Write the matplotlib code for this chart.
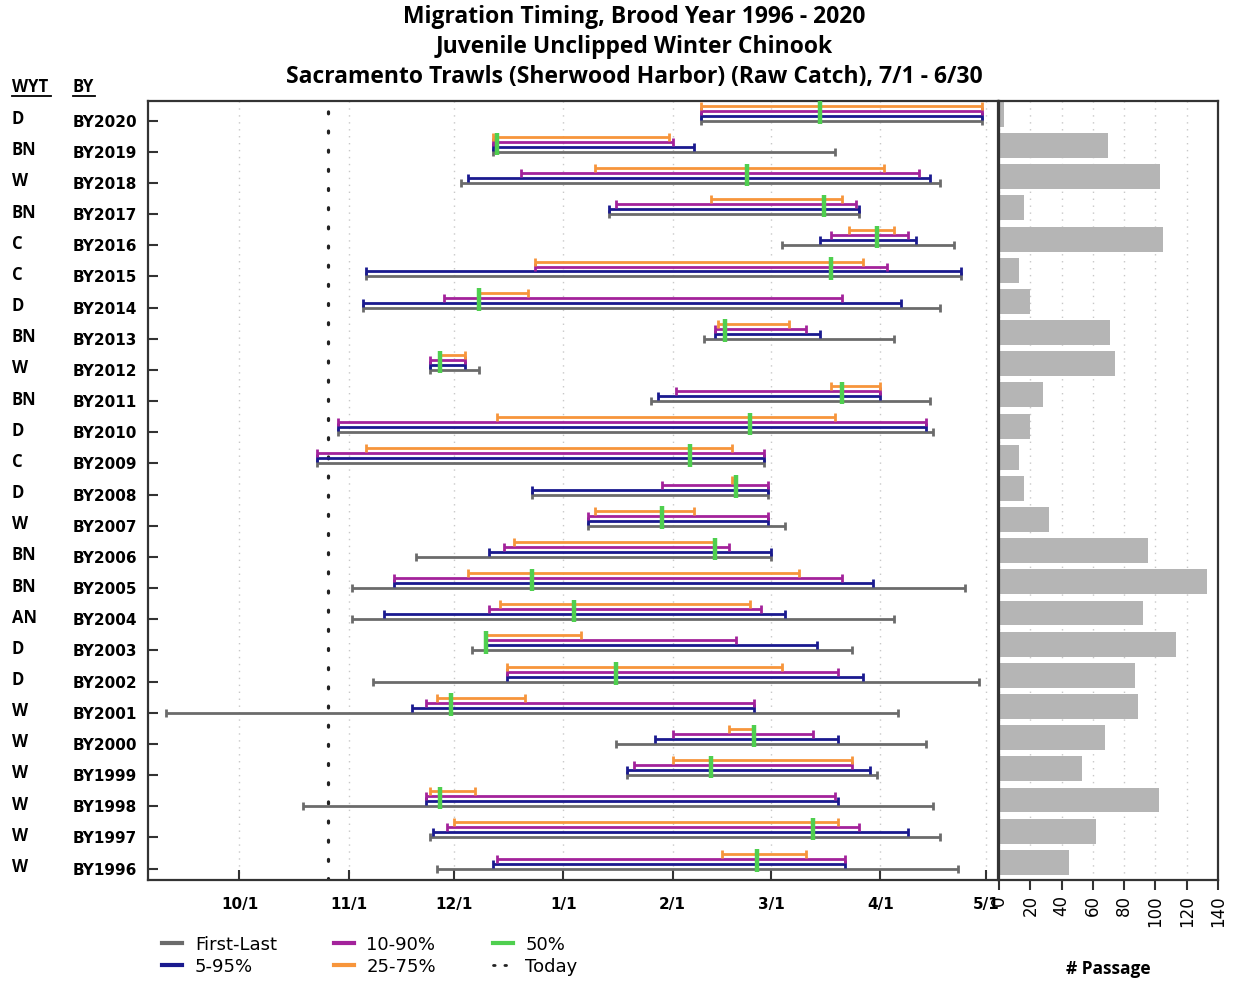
import numpy as np
import matplotlib.pyplot as plt
from matplotlib.lines import Line2D
from matplotlib import transforms

# brood years, top to bottom, with water year type
brood_years = [2020, 2019, 2018, 2017, 2016, 2015, 2014, 2013, 2012, 2011, 2010, 2009, 2008,
               2007, 2006, 2005, 2004, 2003, 2002, 2001, 2000, 1999, 1998, 1997, 1996]
wyt = ['D', 'BN', 'W', 'BN', 'C', 'C', 'D', 'BN', 'W', 'BN', 'D', 'C', 'D',
       'W', 'BN', 'BN', 'AN', 'D', 'D', 'W', 'W', 'W', 'W', 'W', 'W']

# timing in days after 10/1
first_day = [131, 72, 63, 105, 154, 36, 35, 132, 54, 117, 28, 22, 83,
             99, 50, 32, 32, 66, 38, -21, 107, 110, 18, 54, 56]
p5 = [131, 72, 65, 105, 165, 36, 35, 135, 54, 119, 28, 22, 83,
      99, 71, 44, 41, 70, 76, 49, 118, 110, 53, 55, 72]
p10 = [131, 72, 80, 107, 168, 84, 58, 135, 54, 124, 28, 22, 120,
       99, 75, 44, 71, 70, 76, 53, 123, 112, 53, 59, 73]
p25 = [131, 72, 101, 134, 173, 84, 68, 136, 57, 168, 73, 36, 140,
       101, 78, 65, 74, 70, 76, 56, 139, 123, 54, 61, 137]
p50 = [165, 73, 144, 166, 181, 168, 68, 138, 57, 171, 145, 128, 141,
       120, 135, 83, 95, 70, 107, 60, 146, 134, 57, 163, 147]
p75 = [211, 122, 183, 171, 186, 177, 82, 156, 64, 182, 169, 140, 141,
       129, 135, 159, 145, 97, 154, 81, 146, 174, 67, 170, 161]
p90 = [211, 123, 193, 175, 190, 184, 171, 161, 64, 182, 195, 149, 150,
       150, 139, 171, 148, 141, 170, 146, 163, 174, 169, 176, 172]
p95 = [211, 129, 196, 176, 192, 205, 188, 165, 64, 182, 195, 149, 150,
       150, 151, 180, 155, 164, 177, 146, 170, 179, 170, 190, 172]
last_day = [211, 169, 199, 176, 203, 205, 199, 186, 68, 196, 197, 149, 150,
            155, 151, 206, 186, 174, 210, 187, 195, 181, 197, 199, 204]
today = 25

passage = [3, 70, 103, 16, 105, 13, 20, 71, 74, 28, 20, 13, 16,
           32, 95, 133, 92, 113, 87, 89, 68, 53, 102, 62, 45]

month_ticks = [0, 31, 61, 92, 123, 151, 182, 212]
month_labels = ['10/1', '11/1', '12/1', '1/1', '2/1', '3/1', '4/1', '5/1']

GRAY, BLUE, MAGENTA, ORANGE, GREEN = '#6b6b6b', '#1a1a8f', '#a3229b', '#f7953b', '#4fcf4f'
SPINE = '#333333'

fig = plt.figure(figsize=(12.37, 9.81), dpi=100)
ax = fig.add_axes([0.1196, 0.1029, 0.6874, 0.7941])
axb = fig.add_axes([0.8076, 0.1029, 0.1770, 0.7941])

rows = np.arange(len(brood_years))
series = [
    (first_day, last_day, GRAY, 0.0),
    (p5, p95, BLUE, 0.16),
    (p10, p90, MAGENTA, 0.32),
    (p25, p75, ORANGE, 0.48),
]
for lo, hi, col, off in series:
    lo, hi = np.array(lo, float), np.array(hi, float)
    mid = (lo + hi) / 2
    ax.errorbar(mid, rows - off, xerr=(hi - lo) / 2, fmt='none', ecolor=col,
                elinewidth=2.0, capsize=3, capthick=2.0, zorder=3)

ax.vlines(p50, rows - 0.62, rows + 0.1, color=GREEN, lw=3.2, zorder=4)
ax.axvline(today, color='#222222', lw=2.3, linestyle=(0, (0.6, 5.4)),
           dash_capstyle='round', zorder=2)

ax.set_xlim(-26, 215.5)
ax.set_ylim(len(brood_years) - 0.63, -0.63)
ax.set_xticks(month_ticks)
ax.set_xticklabels(month_labels, fontweight='bold', fontsize=11)
ax.set_yticks(rows)
ax.set_yticklabels([f'BY{y}' for y in brood_years], fontweight='bold', fontsize=11)
ax.tick_params(axis='both', direction='in', length=7, width=1.5, color=SPINE)
ax.tick_params(axis='x', pad=12)
ax.tick_params(axis='y', pad=8)
ax.grid(axis='x', color='#c8c8c8', linestyle=(0, (1, 4)), lw=1)
for s in ax.spines.values():
    s.set_linewidth(1.6)
    s.set_color(SPINE)

# passage panel
axb.barh(rows - 0.2, passage, height=0.8, color='#b5b5b5', zorder=2)
axb.set_xlim(0, 140)
axb.set_ylim(ax.get_ylim())
axb.set_xticks(range(0, 141, 20))
axb.set_xticklabels([str(v) for v in range(0, 141, 20)], rotation=90, fontsize=12,
                    va='top')
axb.set_yticks([])
axb.tick_params(axis='x', direction='out', length=7, width=1.5, color=SPINE, pad=4)
axb.grid(axis='x', color='#c8c8c8', linestyle=(0, (1, 4)), lw=1)
axb.set_xlabel('# Passage', fontweight='bold', fontsize=12.5, family='Open Sans',
               labelpad=24)
for s in axb.spines.values():
    s.set_linewidth(1.6)
    s.set_color(SPINE)

# water year type column
tr = transforms.blended_transform_factory(fig.transFigure, ax.transData)
for r, w in zip(rows, wyt):
    ax.text(0.0097, r - 0.05, w, transform=tr, ha='left', va='center',
            fontweight='bold', fontsize=12, family='Open Sans')
fig.text(0.0097, 1 - 87 / 981, 'WYT', ha='left', va='center', fontweight='bold',
         fontsize=12, family='Open Sans')
fig.text(0.059, 1 - 87 / 981, 'BY', ha='left', va='center', fontweight='bold',
         fontsize=12, family='Open Sans')
fig.add_artist(Line2D([12 / 1237, 51 / 1237], [1 - 96 / 981] * 2, color='black', lw=1.3))
fig.add_artist(Line2D([73 / 1237, 95 / 1237], [1 - 96 / 981] * 2, color='black', lw=1.3))

# title
titles = ['Migration Timing, Brood Year 1996 - 2020',
          'Juvenile Unclipped Winter Chinook',
          'Sacramento Trawls (Sherwood Harbor) (Raw Catch), 7/1 - 6/30']
for i, t in enumerate(titles):
    fig.text(0.513, 1 - (17 + 30 * i) / 981, t, ha='center', va='center',
             fontweight='bold', fontsize=16.5, family='Open Sans')

handles = [
    Line2D([], [], color=GRAY, lw=3),
    Line2D([], [], color=BLUE, lw=3),
    Line2D([], [], color=MAGENTA, lw=3),
    Line2D([], [], color=ORANGE, lw=3),
    Line2D([], [], color=GREEN, lw=3),
    Line2D([], [], color='#222222', lw=2, linestyle=(0, (0.6, 3.5)), dash_capstyle='round'),
]
labels = ['First-Last', '5-95%', '10-90%', '25-75%', '50%', 'Today']
fig.legend(handles, labels, ncol=3, loc='upper left', bbox_to_anchor=(0.121, 0.059),
           frameon=False, fontsize=13, handlelength=1.1, handletextpad=0.7,
           columnspacing=3.15, labelspacing=0.22, borderpad=0.2)

fig.savefig('out.png', dpi=100)
